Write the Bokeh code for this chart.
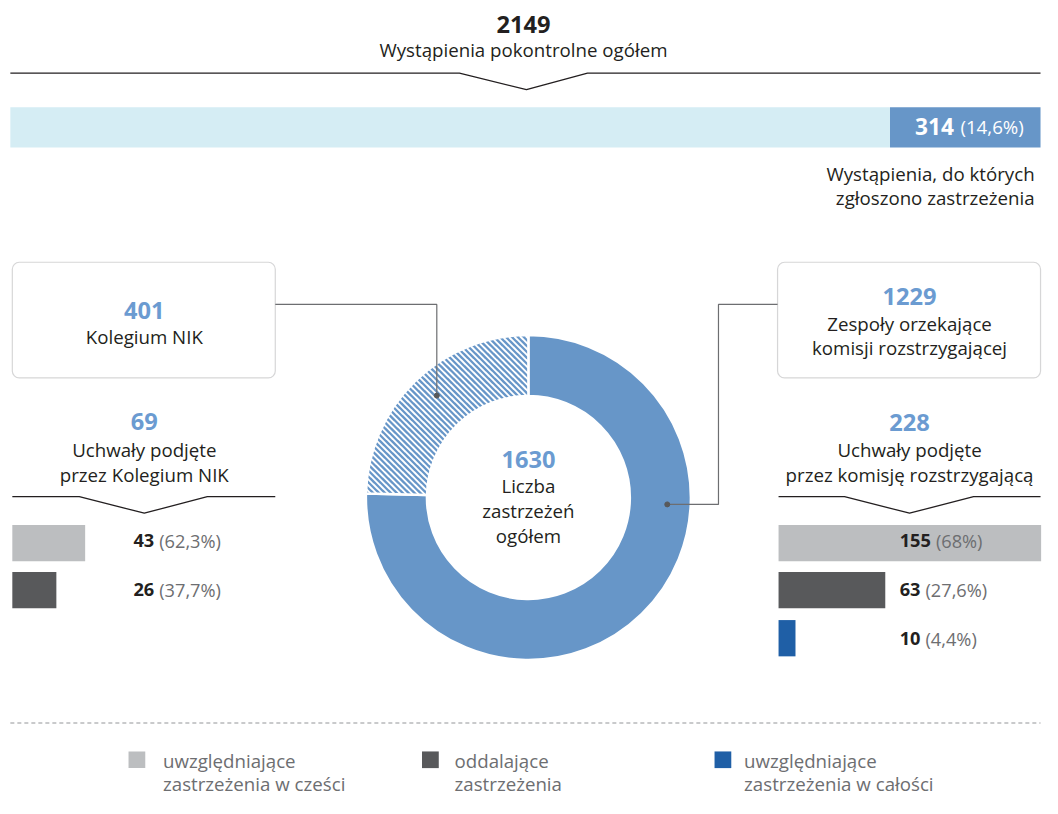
import math
from bokeh.plotting import figure
from bokeh.models import Range1d, BoxAnnotation
from bokeh.core.properties import value
from bokeh.embed import file_html
from bokeh.resources import INLINE

# ---------------- data ----------------
total_reports = 2149
total_label = "Wystąpienia pokontrolne ogółem"
reports_with_objections = 314
reports_with_objections_pct = "(14,6%)"
reports_with_objections_label = ["Wystąpienia, do których", "zgłoszono zastrzeżenia"]

objections_total = 1630
objections_label = ["Liczba", "zastrzeżeń", "ogółem"]
body_counts = [401, 1229]
body_labels = [["Kolegium NIK"], ["Zespoły orzekające", "komisji rozstrzygającej"]]

nik_resolutions = 69
nik_resolutions_label = ["Uchwały podjęte", "przez Kolegium NIK"]
nik_counts = [43, 26]
nik_pcts = ["(62,3%)", "(37,7%)"]

kr_resolutions = 228
kr_resolutions_label = ["Uchwały podjęte", "przez komisję rozstrzygającą"]
kr_counts = [155, 63, 10]
kr_pcts = ["(68%)", "(27,6%)", "(4,4%)"]

legend_labels = [["uwzględniające", "zastrzeżenia w cześci"],
                 ["oddalające", "zastrzeżenia"],
                 ["uwzględniające", "zastrzeżenia w całości"]]

# ---------------- style ----------------
BLUE = "#6796c8"
NUM_BLUE = "#6b9bd1"
LIGHT_BLUE = "#d5edf4"
GRAY_L = "#bcbec0"
GRAY_D = "#58595b"
DARK_BLUE = "#1f5fa6"
DARK = "#231f20"
PCT = "#6d6e71"
CONN = "#6d6e71"
cat_colors = [GRAY_L, GRAY_D, DARK_BLUE]
FONT = value("Open Sans")

W, H = 1058, 814
S = 1042 / W

p = figure(width=1042, height=798, x_range=Range1d(0, W), y_range=Range1d(H, 0),
           output_backend="svg", toolbar_location=None,
           x_axis_location=None, y_axis_location=None, min_border=0)
p.grid.visible = False
p.outline_line_color = None
p.background_fill_color = "white"
p.border_fill_color = "white"


def txt(x, y, s, size, color=DARK, bold=False, align="center"):
    p.text(x=[x], y=[y], text=[s], text_font=FONT,
           text_font_size=f"{size * S:.2f}px",
           text_font_style="bold" if bold else "normal",
           text_color=color, text_align=align, text_baseline="middle")


def num_pct(x, y, n, pct, size=18.5):
    txt(x, y, str(n), size, DARK, True, "left")
    w = len(str(n)) * 0.572 * size + 0.27 * size
    txt(x + w, y, pct, size, PCT, False, "left")


BODY = 19
BIG = 24

# ---------------- top ----------------
txt(531, 24, str(total_reports), BIG, DARK, True)
txt(531, 50, total_label, BODY)
p.line([10, 466, 534, 596, 1056], [74, 74, 91, 74, 74], line_color=DARK, line_width=1.3)

kx = (1056 - 10) / total_reports
split = 10 + (total_reports - reports_with_objections) * kx
p.quad(left=[10], right=[split], top=[109], bottom=[150], fill_color=LIGHT_BLUE, line_color=None)
p.quad(left=[split], right=[10 + total_reports * kx], top=[109], bottom=[150], fill_color=BLUE, line_color=None)
txt(1039, 129, reports_with_objections_pct, BODY, "white", False, "right")
txt(968, 129, str(reports_with_objections), 23, "white", True, "right")
txt(1050, 176, reports_with_objections_label[0], BODY, DARK, False, "right")
txt(1050, 201, reports_with_objections_label[1], BODY, DARK, False, "right")

# ---------------- donut ----------------
cx, cy, r_in, r_out = 536, 507, 103, 165
a0 = math.pi / 2
a1 = a0 + 2 * math.pi * body_counts[0] / objections_total
a2 = a1 + 2 * math.pi * body_counts[1] / objections_total
p.annular_wedge(x=[cx], y=[cy], inner_radius=r_in, outer_radius=r_out,
                start_angle=[a1], end_angle=[a2], direction="anticlock",
                fill_color=BLUE, line_color="white", line_width=2.5)
p.annular_wedge(x=[cx], y=[cy], inner_radius=r_in, outer_radius=r_out,
                start_angle=[a0], end_angle=[a1], direction="anticlock",
                fill_color=BLUE, line_color="white", line_width=2.5)

# white diagonal stripes ("\") clipped to the Kolegium NIK slice
period, dt = 6.0, 0.25
sxs, sys_ = [], []
c = -2 * r_out
while c <= 2 * r_out:
    run_x, run_y = [], []
    t = -r_out - 1
    while t <= r_out + 1:
        dx, dyd = t, t + c
        r = math.hypot(dx, dyd)
        ang = math.atan2(-dyd, dx)
        inside = (r_in <= r <= r_out) and (a0 <= ang <= a1)
        if inside:
            run_x.append(cx + dx)
            run_y.append(cy + dyd)
        elif run_x:
            if len(run_x) > 1:
                sxs.append(run_x)
                sys_.append(run_y)
            run_x, run_y = [], []
        t += dt
    if len(run_x) > 1:
        sxs.append(run_x)
        sys_.append(run_y)
    c += period
p.multi_line(xs=sxs, ys=sys_, line_color="white", line_width=1.9, line_cap="butt")

txt(cx, 468, str(objections_total), BIG, NUM_BLUE, True)
for i, s in enumerate(objections_label):
    txt(cx, 495 + 25.5 * i, s, BODY)

# ---------------- boxes + connectors ----------------
for left, right in [(12, 279), (789, 1056)]:
    p.add_layout(BoxAnnotation(left=left, right=right, top=267, bottom=385,
                               fill_color=None, line_color="#77787b", line_width=1.2,
                               border_radius=7))
txt(146, 316, str(body_counts[0]), BIG, NUM_BLUE, True)
txt(146, 343, body_labels[0][0], BODY)
txt(923, 302, str(body_counts[1]), BIG, NUM_BLUE, True)
txt(923, 329, body_labels[1][0], BODY)
txt(923, 354, body_labels[1][1], BODY)

p.line([279, 443, 443], [310, 310, 403], line_color=CONN, line_width=1.2)
p.line([789, 729, 729, 677], [310, 310, 514, 514], line_color=CONN, line_width=1.2)
p.scatter([443, 677], [403, 514], size=5, color=GRAY_D)

# ---------------- resolutions ----------------
txt(146, 429, str(nik_resolutions), BIG, NUM_BLUE, True)
txt(146, 458, nik_resolutions_label[0], BODY)
txt(146, 483, nik_resolutions_label[1], BODY)
p.line([12, 80, 146, 210, 279], [506, 506, 523, 506, 506], line_color=DARK, line_width=1.3)

txt(923, 430, str(kr_resolutions), BIG, NUM_BLUE, True)
txt(923, 458, kr_resolutions_label[0], BODY)
txt(923, 483, kr_resolutions_label[1], BODY)
p.line([790, 857, 923, 988, 1056], [506, 506, 523, 506, 506], line_color=DARK, line_width=1.3)

kb = 1.72
tops = [535, 583, 632]
bots = [572, 620, 669]
mids = [551, 601, 651]
for i, c in enumerate(nik_counts):
    p.quad(left=[12], right=[12 + c * kb], top=[tops[i]], bottom=[bots[i]],
           fill_color=cat_colors[i], line_color=None)
    num_pct(135, mids[i], c, nik_pcts[i])
for i, c in enumerate(kr_counts):
    p.quad(left=[790], right=[790 + c * kb], top=[tops[i]], bottom=[bots[i]],
           fill_color=cat_colors[i], line_color=None)
    num_pct(913, mids[i], c, kr_pcts[i])

# ---------------- legend ----------------
p.line([10, 1056], [737, 737], line_color="#939598", line_width=1, line_dash="4 3")
sq_x = [130, 428, 725]
tx_x = [165, 461, 755]
for i in range(3):
    p.quad(left=[sq_x[i]], right=[sq_x[i] + 17], top=[766], bottom=[783],
           fill_color=cat_colors[i], line_color=None)
    txt(tx_x[i], 775, legend_labels[i][0], BODY, "#6d6e71", False, "left")
    txt(tx_x[i], 799, legend_labels[i][1], BODY, "#6d6e71", False, "left")

open("out.html", "w").write(file_html(p, INLINE))
